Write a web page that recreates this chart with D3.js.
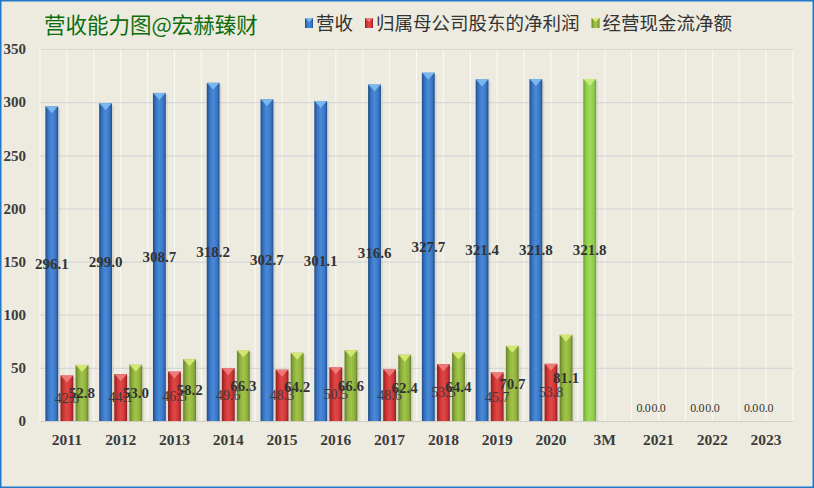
<!DOCTYPE html>
<html>
<head>
<meta charset="utf-8">
<script src="https://cdn.jsdelivr.net/npm/d3@7"></script>
<style>
  html, body { margin: 0; padding: 0; background: #edebe0; }
  svg { display: block; }
</style>
</head>
<body>
<svg id="chart"></svg>
<script>
const width = 814;
const height = 488;

// categories and series values
const categories = ["2011", "2012", "2013", "2014", "2015", "2016", "2017", "2018", "2019", "2020", "3M", "2021", "2022", "2023"];
const seriesNames = ["营收", "归属母公司股东的净利润", "经营现金流净额"];
const revenue = [296.1, 299.0, 308.7, 318.2, 302.7, 301.1, 316.6, 327.7, 321.4, 321.8, 321.8, 0, 0, 0];
const netProfit = [42.8, 44.1, 46.5, 49.6, 48.3, 50.5, 48.6, 53.5, 45.7, 53.8, null, 0, 0, 0];
const cashFlow = [52.8, 53.0, 58.2, 66.3, 64.2, 66.6, 62.4, 64.4, 70.7, 81.1, null, null, null, null];
const yTicks = [0, 50, 100, 150, 200, 250, 300, 350];

const serif = "'Liberation Serif', 'Times New Roman', serif";
const cjk = "'Noto Sans CJK SC', sans-serif";

// colour sets: [edge dark, body, highlight, top facet]
const palette = {
  blue:  ["#1f4d8c", "#3a77c6", "#4a8ad8", "#7fbdf2"],
  red:   ["#8e1e1e", "#cf3535", "#e04848", "#f08080"],
  green: ["#63802a", "#8fb13c", "#a3c44a", "#d8ec78"],
  lime:  ["#6ea534", "#8fcf4a", "#9fdc58", "#c8f080"]
};
const seriesColor = ["blue", "red", "green"];

const svg = d3.select("#chart")
  .attr("width", width)
  .attr("height", height)
  .attr("viewBox", [0, 0, width, height]);

svg.append("rect")
  .attr("width", width).attr("height", height)
  .attr("fill", "#edebe0");

// gradients for the shaded bars
const defs = svg.append("defs");
Object.entries(palette).forEach(([key, c]) => {
  const g = defs.append("linearGradient")
    .attr("id", "grad-" + key)
    .attr("x1", "0%").attr("x2", "100%").attr("y1", "0%").attr("y2", "0%");
  g.append("stop").attr("offset", "0%").attr("stop-color", c[0]);
  g.append("stop").attr("offset", "25%").attr("stop-color", c[1]);
  g.append("stop").attr("offset", "50%").attr("stop-color", c[2]);
  g.append("stop").attr("offset", "80%").attr("stop-color", c[1]);
  g.append("stop").attr("offset", "100%").attr("stop-color", c[0]);
});

// scales
const x0 = d3.scaleBand()
  .domain(categories)
  .range([40, 793])
  .paddingInner(0.2)
  .paddingOuter(0.1);

const x1 = d3.scaleBand()
  .domain(d3.range(seriesNames.length))
  .range([0, x0.bandwidth()])
  .paddingInner(0.15);

const y = d3.scaleLinear()
  .domain([0, 350])
  .range([421, 49]);

// vertical grid (every half category)
const step = x0.step();
const vLines = d3.range(0, categories.length * 2 + 1).map(k => 40 + k * step / 2);
svg.append("g")
  .selectAll("line")
  .data(vLines)
  .join("line")
  .attr("x1", d => d).attr("x2", d => d)
  .attr("y1", y(350)).attr("y2", y(0))
  .attr("stroke", "#fbfaf5")
  .attr("stroke-width", 1);

// horizontal grid
svg.append("g")
  .selectAll("line")
  .data(yTicks)
  .join("line")
  .attr("x1", 40).attr("x2", 793)
  .attr("y1", d => y(d) + 0.5).attr("y2", d => y(d) + 0.5)
  .attr("stroke", d => d === 0 ? "#cfcdc4" : "#d8d7d8")
  .attr("stroke-width", 1.2);

// y axis labels
svg.append("g")
  .selectAll("text")
  .data(yTicks)
  .join("text")
  .attr("x", 26)
  .attr("y", d => y(d))
  .attr("dy", "0.35em")
  .attr("text-anchor", "end")
  .attr("font-family", serif)
  .attr("font-weight", "bold")
  .attr("font-size", 15)
  .attr("fill", "#3c3c3c")
  .text(d => d);

// x axis labels
svg.append("g")
  .selectAll("text")
  .data(categories)
  .join("text")
  .attr("x", d => x0(d) + x0.bandwidth() / 2)
  .attr("y", 440)
  .attr("dy", "0.35em")
  .attr("text-anchor", "middle")
  .attr("font-family", serif)
  .attr("font-weight", "bold")
  .attr("font-size", 15.5)
  .attr("fill", "#3c3c3c")
  .text(d => d);

// flatten data into bars
const allSeries = [revenue, netProfit, cashFlow];
const bars = [];
allSeries.forEach((vals, s) => {
  vals.forEach((v, i) => {
    if (v === null) return;
    const cat = categories[i];
    bars.push({
      s, cat, value: v,
      color: (cat === "3M" && s === 0) ? "lime" : seriesColor[s]
    });
  });
});

const barW = x1.bandwidth();
const bx = d => x0(d.cat) + x1(d.s);

// soft shadow
svg.append("g")
  .selectAll("rect")
  .data(bars.filter(d => d.value > 0))
  .join("rect")
  .attr("x", d => bx(d) + 2)
  .attr("y", d => y(d.value) + 2)
  .attr("width", barW)
  .attr("height", d => y(0) - y(d.value) - 2)
  .attr("fill", "#000")
  .attr("opacity", 0.08);

const barG = svg.append("g")
  .selectAll("g")
  .data(bars.filter(d => d.value > 0))
  .join("g");

barG.append("rect")
  .attr("x", d => bx(d))
  .attr("y", d => y(d.value))
  .attr("width", barW)
  .attr("height", d => y(0) - y(d.value))
  .attr("fill", d => `url(#grad-${d.color})`);

// top bevel facet
barG.append("path")
  .attr("d", d => {
    const l = bx(d), r = l + barW, t = y(d.value);
    return `M${l},${t}L${r},${t}L${r - 3},${t + 3}L${(l + r) / 2},${t + 7}L${l + 3},${t + 3}Z`;
  })
  .attr("fill", d => palette[d.color][3])
  .attr("opacity", 0.9);

// data labels
const fmt = d3.format(".1f");
svg.append("g")
  .selectAll("text")
  .data(bars)
  .join("text")
  .attr("x", d => bx(d) + barW / 2)
  .attr("y", d => d.value === 0 ? y(0) - 13 : (y(d.value) + y(0)) / 2)
  .attr("dy", "0.35em")
  .attr("text-anchor", "middle")
  .attr("font-family", serif)
  .attr("font-weight", d => d.value === 0 || d.s === 1 ? "normal" : "bold")
  .attr("font-size", d => d.value === 0 ? 12 : (d.s === 1 ? 14 : 15))
  .attr("fill", d => d.s === 1 ? "#3a3a3a" : "#333")
  .attr("letter-spacing", d => d.value === 0 ? "-0.3" : "0")
  .text(d => fmt(d.value));

// title
svg.append("text")
  .attr("x", 44)
  .attr("y", 25)
  .attr("dy", "0.35em")
  .attr("font-family", cjk)
  .attr("font-size", 21.5)
  .attr("fill", "#0b6e0b")
  .text("营收能力图@宏赫臻财");

// legend
const legend = svg.append("g");
let lx = 305;
seriesNames.forEach((name, i) => {
  const key = seriesColor[i];
  legend.append("rect")
    .attr("x", lx).attr("y", 18)
    .attr("width", 8).attr("height", 10)
    .attr("fill", `url(#grad-${key})`);
  legend.append("path")
    .attr("d", `M${lx},18L${lx + 8},18L${lx + 4},22Z`)
    .attr("fill", palette[key][3]);
  const t = legend.append("text")
    .attr("x", lx + 11)
    .attr("y", 24)
    .attr("dy", "0.35em")
    .attr("font-family", cjk)
    .attr("font-size", 18.5)
    .attr("fill", "#333")
    .text(name);
  lx += 11 + t.node().getComputedTextLength() + 12;
});

// outer border
svg.append("rect")
  .attr("x", 0.75).attr("y", 0.75)
  .attr("width", width - 1.5).attr("height", height - 1.5)
  .attr("fill", "none")
  .attr("stroke", "#1f78c8")
  .attr("stroke-width", 1.5);
</script>
</body>
</html>
